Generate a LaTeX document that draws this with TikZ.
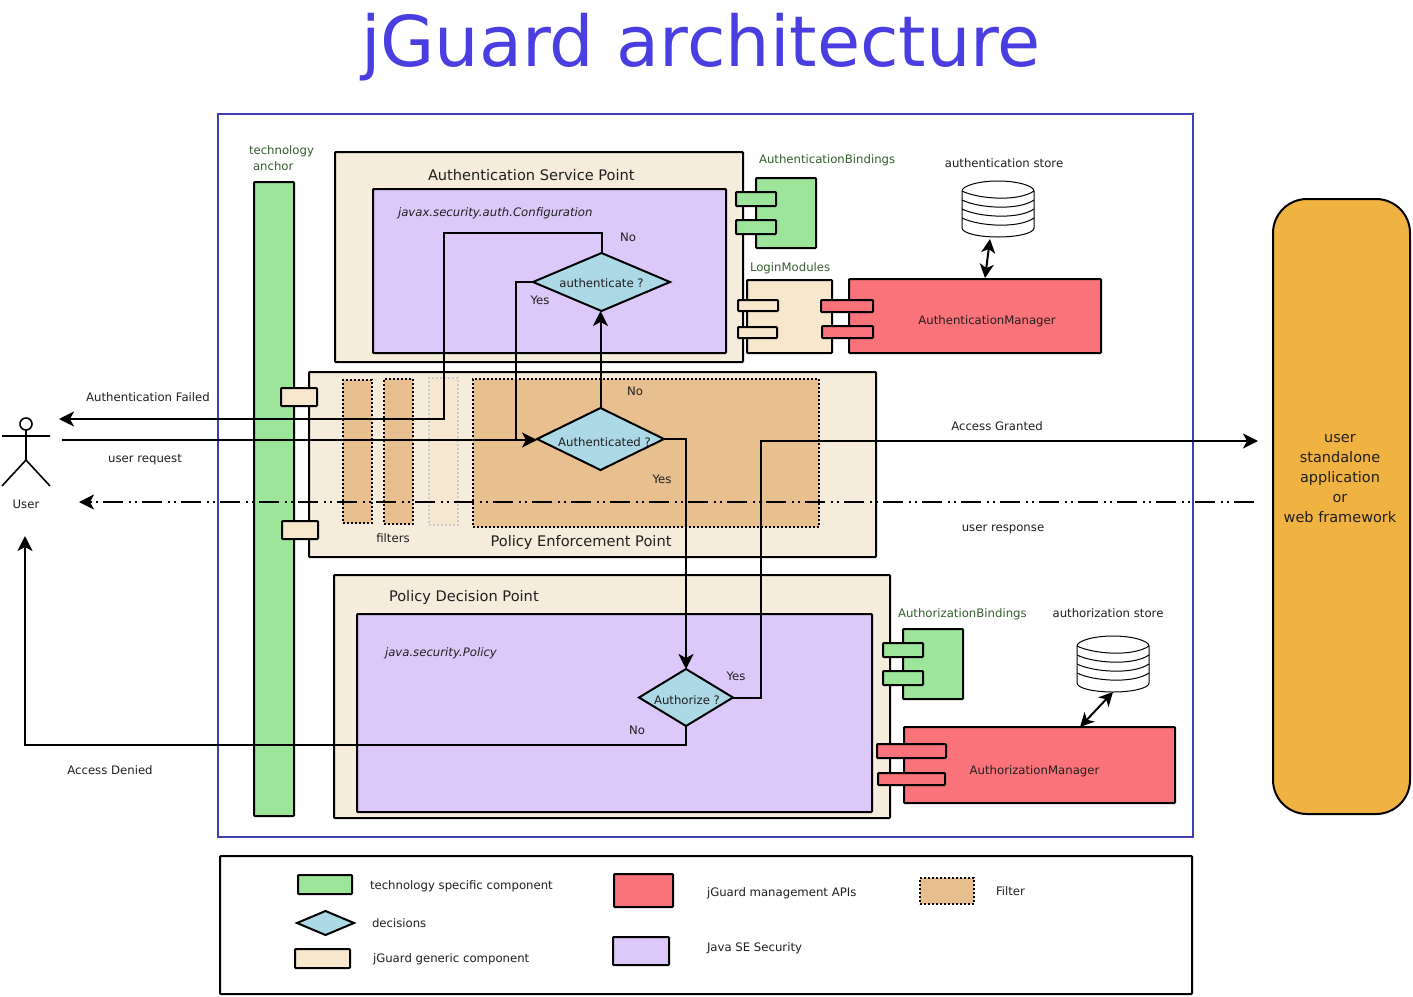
\documentclass[tikz,border=0pt]{standalone}
\usepackage{fontspec}
\setmainfont{DejaVu Sans}
\usetikzlibrary{shapes.geometric,arrows.meta}
\definecolor{cgreen}{HTML}{9DE59B}
\definecolor{cbeige}{HTML}{F5ECDC}
\definecolor{cpurple}{HTML}{DCC9F9}
\definecolor{ctan}{HTML}{E8C090}
\definecolor{cfaint}{HTML}{F6E8D0}
\definecolor{cgeneric}{HTML}{F7E7CC}
\definecolor{cblue}{HTML}{ADD8E6}
\definecolor{cred}{HTML}{FB737A}
\definecolor{corange}{HTML}{F0B342}
\definecolor{ctitle}{HTML}{4A3EE0}
\definecolor{cframe}{HTML}{3F3FB5}
\definecolor{cdgreen}{HTML}{355E2F}
\newcommand\bx[6]{%
  \pgfmathsetmacro\bxw{#5-(#3)}\pgfmathsetmacro\bxh{#6-(#4)}%
  \pgfmathsetmacro\bxx{(#3+#5)/2}\pgfmathsetmacro\bxy{(#4+#6)/2}%
  \node[#2,minimum width=\bxw pt,minimum height=\bxh pt] (#1) at (\bxx,\bxy) {};}
\newcommand\dbase[3]{% name, left x, top y
  \begin{scope}[shift={(#2,#3)},line width=1pt]
    \draw[fill=white] (0,10) .. controls (0,5) and (16,0) .. (36,0) .. controls (56,0) and (72,5) .. (72,10)
      -- (72,47) .. controls (72,52) and (56,56) .. (36,56) .. controls (16,56) and (0,52) .. (0,47) -- cycle;
    \foreach \yy in {10,19,28,37}
      \draw (0,\yy) .. controls (16,\yy+8) and (56,\yy+11) .. (72,\yy);
  \end{scope}}
\newcommand\smallfs{\fontsize{11.7}{14}\selectfont}
\tikzset{
  every node/.style={inner sep=0pt,outer sep=0pt},
  solidbox/.style={draw=black,line width=2pt,rectangle,rounded corners=0.8pt},
  filterbox/.style={draw=black,line width=2pt,dash pattern=on 2pt off 2pt,fill=ctan,rectangle},
  dec/.style={diamond,draw=black,line width=2pt,fill=cblue},
  flow/.style={draw=black,line width=2pt},
  tip/.style={-{Stealth[length=15pt,width=15pt,inset=4pt]}},
  dbltip/.style={{Stealth[length=14pt,width=14pt,inset=4pt]}-{Stealth[length=14pt,width=14pt,inset=4pt]}},
  txt/.style={font=\smallfs,text=black!88},
  gtxt/.style={font=\smallfs,text=cdgreen},
  head/.style={font=\fontsize{14.6}{18}\selectfont,text=black!88},
}
\begin{document}
\begin{tikzpicture}[x=1pt,y=-1pt]
\useasboundingbox[fill=white] (0,0) rectangle (1413,996);
\node[font=\fontsize{70.1}{80}\selectfont,text=ctitle] (title) at (701,47) {jGuard architecture};
% frames
\bx{frame}{rectangle,draw=cframe,line width=2pt}{218}{114}{1193}{837}
\bx{legend}{solidbox}{220}{856}{1192}{994}
% technology anchor
\bx{anchor}{solidbox,fill=cgreen}{254}{182}{294}{816}
% Authentication service point
\bx{asp}{solidbox,fill=cbeige}{335}{152}{743}{362}
\bx{aspin}{solidbox,fill=cpurple}{373}{189}{726}{353}
% Policy enforcement point
\bx{pep}{solidbox,fill=cbeige}{309}{372}{876}{557}
\bx{fa}{filterbox}{343}{380}{372}{523}
\bx{fb}{filterbox}{384}{379}{413}{524}
\bx{fc}{rectangle,draw=black!20,line width=2pt,dash pattern=on 2pt off 2pt,fill=cfaint}{429}{378}{458}{525}
\bx{fd}{filterbox}{473}{379}{819}{527}
% Policy decision point
\bx{pdp}{solidbox,fill=cbeige}{334}{575}{890}{818}
\bx{pdpin}{solidbox,fill=cpurple}{357}{614}{872}{812}
% anchor tabs
\bx{ta}{solidbox,fill=cgeneric}{281}{388}{317}{406}
\bx{tb}{solidbox,fill=cgeneric}{282}{521}{318}{539}
% authentication bindings
\bx{abind}{solidbox,fill=cgreen}{756}{178}{816}{248}
\bx{abt1}{solidbox,fill=cgreen}{736}{192}{776}{206}
\bx{abt2}{solidbox,fill=cgreen}{736}{220}{776}{234}
% login modules
\bx{login}{solidbox,fill=cgeneric}{747}{280}{832}{353}
\bx{lt1}{solidbox,fill=cgeneric}{738}{300}{778}{311}
\bx{lt2}{solidbox,fill=cgeneric}{738}{327}{777}{338}
% authentication manager
\bx{amgr}{solidbox,fill=cred,label={[txt,xshift=12pt,yshift=-5pt]center:AuthenticationManager}}{849}{279}{1101}{353}
\bx{amt1}{solidbox,fill=cred}{821}{300}{873}{312}
\bx{amt2}{solidbox,fill=cred}{822}{326}{873}{338}
% authorization bindings
\bx{zbind}{solidbox,fill=cgreen}{903}{629}{963}{699}
\bx{zbt1}{solidbox,fill=cgreen}{883}{643}{923}{657}
\bx{zbt2}{solidbox,fill=cgreen}{883}{671}{923}{685}
% authorization manager
\bx{zmgr}{solidbox,fill=cred,label={[txt,xshift=-5pt,yshift=-6pt]center:AuthorizationManager}}{904}{727}{1175}{803}
\bx{zmt1}{solidbox,fill=cred}{877}{744}{946}{758}
\bx{zmt2}{solidbox,fill=cred}{878}{773}{945}{785}
% application
\bx{app}{draw=black,line width=2pt,fill=corange,rectangle,rounded corners=34pt}{1273}{199}{1410}{814}
% stores
\dbase{db1}{962}{181}
\dbase{db2}{1077}{636}
\coordinate (db1a) at (990,239);
\coordinate (db1b) at (985,278);
\coordinate (db2a) at (1113,692);
\coordinate (db2b) at (1080,727);
\draw[flow,dbltip] (db1a) -- (db1b);
\draw[flow,dbltip] (db2a) -- (db2b);
% decisions
\bx{d1}{dec,label={[txt,yshift=-1pt]center:authenticate ?}}{533}{253}{670}{311}
\bx{d2}{dec,label={[txt,xshift=4pt,yshift=-3.5pt]center:Authenticated ?}}{537}{408}{664}{470}
\bx{d3}{dec,label={[txt,xshift=1pt,yshift=-2.5pt]center:Authorize ?}}{639}{669}{733}{726}
% actor
\node[circle,draw=black,line width=1.6pt,minimum size=12pt] (head) at (26,424) {};
\coordinate (hip) at (26,460);
\coordinate (armL) at (2,436);
\coordinate (armR) at (50,436);
\coordinate (legL) at (2,486);
\coordinate (legR) at (50,486);
\draw[line width=1.6pt] (head.south) -- (hip) (armL) -- (armR) (hip) -- (legL) (hip) -- (legR);
% connector free ends
\coordinate (reqStart) at (62,440);
\coordinate (failEnd) at (59,419);
\coordinate (grantEnd) at (1258,441);
\coordinate (respStart) at (1254,502);
\coordinate (respEnd) at (79,502);
\coordinate (denyEnd) at (25,536);
\coordinate (failTop) at (444,233);
\coordinate (failBend) at (444,419);
\coordinate (joinReq) at (516,440);
\coordinate (grantBend) at (761,441);
\coordinate (denyBend) at (25,745);
% connectors
\draw[flow,tip] (reqStart) -- (d2.west |- reqStart);
\draw[flow] (d1.west) -| (joinReq);
\draw[flow,tip] (d2.north) -- (d2.north |- d1.south);
\draw[flow,tip] (d1.north) |- (failTop) -- (failBend) -- (failEnd);
\draw[flow,tip] (d2.east) -| (d3.north);
\draw[flow,tip] (d3.east) -| (grantBend) -- (grantEnd);
\draw[flow,tip] (d3.south) |- (denyBend) -- (denyEnd);
\draw[flow,tip,dash pattern=on 20pt off 5.5pt on 2pt off 4pt on 2pt off 5.5pt] (respStart) -- (respEnd);
% labels
\node[gtxt,anchor=west] (l1) at (249,151) {technology};
\node[gtxt,anchor=west] (l2) at (253,166) {anchor};
\node[head,anchor=west] (l3) at (428,175) {Authentication Service Point};
\node[txt,anchor=west,font=\smallfs\itshape] (l4) at (398,213) {javax.security.auth.Configuration};
\node[gtxt,anchor=west] (l5) at (759,160) {AuthenticationBindings};
\node[txt] (l6) at (1004,163) {authentication store};
\node[gtxt,anchor=west] (l7) at (750,268) {LoginModules};
\node[txt] (l8) at (628,237) {No};
\node[txt] (l9) at (540,300) {Yes};
\node[txt] (l10) at (148,397) {Authentication Failed};
\node[txt] (l11) at (145,460) {user request};
\node[txt] (l12) at (26,504) {User};
\node[txt] (l13) at (635,391) {No};
\node[txt] (l14) at (662,479) {Yes};
\node[txt] (l15) at (393,538) {filters};
\node[head] (l16) at (581,542) {Policy Enforcement Point};
\node[txt] (l17) at (997,426) {Access Granted};
\node[txt] (l18) at (1003,529) {user response};
\node[head,anchor=west] (l19) at (389,597) {Policy Decision Point};
\node[txt,anchor=west,font=\smallfs\itshape] (l20) at (385,653) {java.security.Policy};
\node[gtxt,anchor=west] (l21) at (898,614) {AuthorizationBindings};
\node[txt] (l22) at (1108,613) {authorization store};
\node[txt] (l23) at (736,676) {Yes};
\node[txt] (l24) at (637,730) {No};
\node[txt] (l25) at (110,770) {Access Denied};
\node[font=\fontsize{14.5}{20}\selectfont,text=black!88,align=center] (l26) at (1340,479) {user\\standalone\\application\\or\\web framework};
% legend
\bx{k1}{solidbox,fill=cgreen}{298}{875}{352}{894}
\bx{k2}{dec}{297}{911}{354}{935}
\bx{k3}{solidbox,fill=cgeneric}{295}{949}{350}{968}
\bx{k4}{solidbox,fill=cred}{614}{874}{673}{907}
\bx{k5}{solidbox,fill=cpurple}{613}{937}{669}{965}
\bx{k6}{filterbox}{920}{878}{974}{904}
\node[txt,anchor=west] (t1) at (370,886) {technology specific component};
\node[txt,anchor=west] (t2) at (372,923) {decisions};
\node[txt,anchor=west] (t3) at (373,959) {jGuard generic component};
\node[txt,anchor=west] (t4) at (707,893) {jGuard management APIs};
\node[txt,anchor=west] (t5) at (707,948) {Java SE Security};
\node[txt,anchor=west] (t6) at (996,891) {Filter};
\end{tikzpicture}
\end{document}
